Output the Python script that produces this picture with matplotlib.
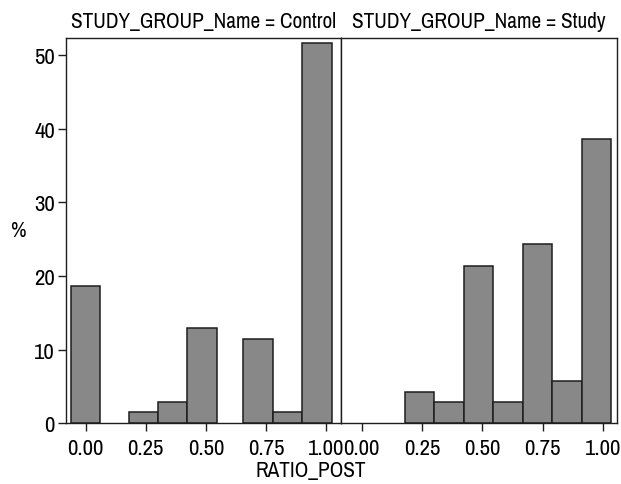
import matplotlib
matplotlib.use("Agg")
import matplotlib.pyplot as plt
from matplotlib import font_manager

names = {f.name for f in font_manager.fontManager.ttflist}
family = None
for cand in ["Liberation Sans Narrow", "Arial Narrow", "Archivo Narrow", "Roboto Condensed", "PT Sans Narrow"]:
    if cand in names:
        family = cand
        break
if family:
    plt.rcParams['font.family'] = [family, 'DejaVu Sans']
else:
    plt.rcParams['font.family'] = ['DejaVu Sans']
    plt.rcParams['font.stretch'] = 'condensed'

# Data
panel_titles = ["STUDY_GROUP_Name = Control", "STUDY_GROUP_Name = Study"]
control_mid = [0.0, 0.240, 0.362, 0.484, 0.717, 0.839, 0.962]
control_pct = [18.7, 1.5, 2.9, 12.9, 11.5, 1.5, 51.6]
study_mid = [0.240, 0.362, 0.484, 0.607, 0.729, 0.851, 0.973]
study_pct = [4.3, 2.9, 21.4, 2.9, 24.3, 5.7, 38.6]
bin_width = 0.122
xticks = [0.0, 0.25, 0.50, 0.75, 1.00]
xtick_labels = ["0.00", "0.25", "0.50", "0.75", "1.00"]
yticks = [0, 10, 20, 30, 40, 50]

W, H = 621, 485
fig = plt.figure(figsize=(W/100, H/100), dpi=100)

bottom = (H - 424.3) / H
height = (424.3 - 39.3) / H
ax1 = fig.add_axes([66/W, bottom, 275/W, height])
ax2 = fig.add_axes([341/W, bottom, 276/W, height])

fs_tick = 16.5
fs_text = 15.3
edge = '#1e1e1e'
for ax, mids, pcts, title, xl in [
    (ax1, control_mid, control_pct, panel_titles[0], (-0.081, 1.061)),
    (ax2, study_mid, study_pct, panel_titles[1], (-0.085, 1.058)),
]:
    ax.bar(mids, pcts, width=bin_width, color='#888888', edgecolor=edge, linewidth=1.1)
    ax.set_xlim(*xl)
    ax.set_ylim(0, 52.3)
    ax.set_xticks(xticks)
    ax.set_xticklabels(xtick_labels, fontsize=fs_tick)
    ax.tick_params(axis='x', direction='out', length=6, width=1, color=edge, pad=4.5)
    ax.set_title(title, fontsize=fs_text, pad=8)
    for s in ax.spines.values():
        s.set_linewidth(1.0)
        s.set_color(edge)

ax1.set_yticks(yticks)
ax1.set_yticklabels([str(v) for v in yticks], fontsize=fs_tick)
ax1.tick_params(axis='y', direction='out', length=6, width=1, color=edge, pad=2)
ax2.set_yticks([])
ax1.text(19/W, (H - 231) / H, '%', fontsize=fs_text, ha='center', va='center',
         transform=fig.transFigure)

fig.text(311/W, (H - 471) / H, 'RATIO_POST', fontsize=fs_text, ha='center', va='center')

fig.savefig('out.png', dpi=100)
